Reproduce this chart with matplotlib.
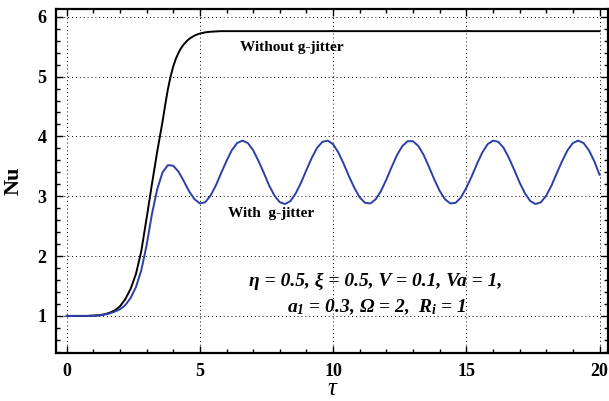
import numpy as np
import matplotlib.pyplot as plt
from matplotlib.ticker import MultipleLocator

plt.rcParams['font.family'] = 'Liberation Serif'
plt.rcParams['font.weight'] = 'bold'
plt.rcParams['mathtext.fontset'] = 'custom'
plt.rcParams['mathtext.it'] = 'Liberation Serif:italic:bold'
plt.rcParams['mathtext.rm'] = 'Liberation Serif:italic:bold'

# Nusselt number without modulation (steady state)
tau_steady = [0.0, 0.2, 0.4, 0.6, 0.8, 1.0, 1.2, 1.4, 1.6, 1.8,
              2.0, 2.2, 2.4, 2.6, 2.8, 3.0, 3.2, 3.4, 3.6, 3.7,
              3.8, 3.9, 4.0, 4.1, 4.2, 4.3, 4.4, 4.5, 4.6, 4.7,
              4.8, 4.9, 5.0, 5.2, 5.4, 5.6, 5.8, 6.0, 20.0]
nu_steady = [1.00, 1.00, 1.00, 1.00, 1.00, 1.005, 1.01, 1.025, 1.05, 1.09,
             1.16, 1.28, 1.45, 1.70, 2.08, 2.63, 3.20, 3.75, 4.25, 4.53,
             4.79, 5.00, 5.17, 5.30, 5.40, 5.48, 5.54, 5.59, 5.63, 5.66,
             5.685, 5.705, 5.72, 5.74, 5.75, 5.755, 5.76, 5.76, 5.76]

# Nusselt number with gravity modulation
tau_jitter = np.round(np.arange(0, 20.01, 0.2), 1)
nu_jitter = [1.00, 1.00, 1.00, 1.00, 1.00, 1.005, 1.01, 1.02, 1.04, 1.07,
             1.11, 1.18, 1.30, 1.48, 1.76, 2.18, 2.70, 3.12, 3.40, 3.52,
             3.51, 3.41, 3.25, 3.08, 2.95, 2.88, 2.90, 3.01, 3.18, 3.39,
             3.59, 3.77, 3.89, 3.93, 3.89, 3.77, 3.59, 3.39, 3.18, 3.01,
             2.90, 2.87, 2.92, 3.05, 3.23, 3.44, 3.64, 3.81, 3.91, 3.93,
             3.87, 3.73, 3.54, 3.33, 3.14, 2.98, 2.89, 2.88, 2.95, 3.09,
             3.28, 3.49, 3.69, 3.84, 3.92, 3.92, 3.84, 3.69, 3.49, 3.28,
             3.09, 2.95, 2.88, 2.89, 2.98, 3.14, 3.33, 3.54, 3.73, 3.87,
             3.93, 3.91, 3.81, 3.64, 3.44, 3.23, 3.05, 2.92, 2.87, 2.90,
             3.01, 3.18, 3.39, 3.59, 3.77, 3.89, 3.93, 3.89, 3.77, 3.59,
             3.36]

fig = plt.figure(figsize=(6.09, 4.01), dpi=100)
ax = fig.add_axes([56 / 609, 1 - 353 / 401, 551.5 / 609, 344 / 401])

ax.plot(tau_steady, nu_steady, color='black', lw=1.4)
ax.plot(tau_jitter, nu_jitter, color='#2b3fa6', lw=1.4)

ax.set_xlim(-0.4, 20.3)
ax.set_ylim(0.38, 6.13)
ax.xaxis.set_major_locator(MultipleLocator(5))
ax.xaxis.set_minor_locator(MultipleLocator(1))
ax.yaxis.set_major_locator(MultipleLocator(1))
ax.yaxis.set_minor_locator(MultipleLocator(0.2))
ax.tick_params(which='both', direction='in', top=True, right=True, width=1.0)
ax.tick_params(which='major', length=5, pad=7, labelsize=13)
ax.tick_params(which='minor', length=3)
for sp in ax.spines.values():
    sp.set_linewidth(1.6)

ax.grid(True, which='major', color='black', lw=0.7, linestyle=(0, (1, 3)))

ax.set_xlabel('τ', fontsize=18, fontstyle='italic', fontweight='normal', labelpad=-1)
ax.set_ylabel('Nu', fontsize=16, fontweight='bold', labelpad=10)

ax.text(6.5, 5.48, 'Without g-jitter', fontsize=11, va='center')
ax.text(6.05, 2.72, 'With  g-jitter', fontsize=11, va='center')
ax.text(11.6, 1.57, 'η = 0.5, ξ = 0.5, V = 0.1, Va = 1,', fontsize=14,
        fontstyle='italic', ha='center', va='center')
ax.text(11.65, 1.15, r'$a_1$ = 0.3, Ω = 2,  $R_i$ = 1', fontsize=14,
        fontstyle='italic', ha='center', va='center')

fig.savefig('out.png', dpi=100)
